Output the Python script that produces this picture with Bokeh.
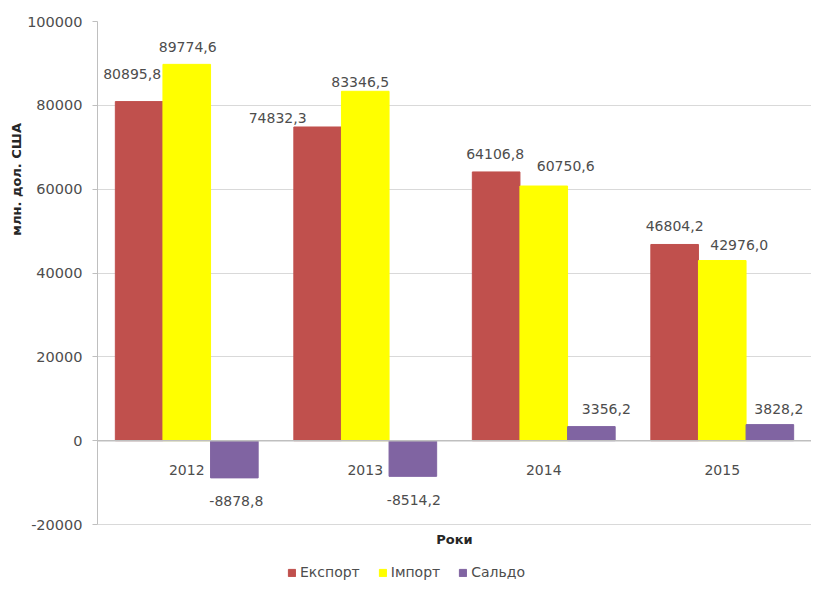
from bokeh.plotting import figure
from bokeh.models import (ColumnDataSource, FactorRange, Range1d, FixedTicker,
                          NumeralTickFormatter, Span, Legend, LegendItem, Label, Title)
from bokeh.transform import dodge
from bokeh.core.properties import value
from bokeh.embed import file_html
from bokeh.resources import INLINE

# ---- data ----
years = ["2012", "2013", "2014", "2015"]
export = [80895.8, 74832.3, 64106.8, 46804.2]
imports = [89774.6, 83346.5, 60750.6, 42976.0]
saldo = [-8878.8, -8514.2, 3356.2, 3828.2]
series_names = ["Експорт", "Імпорт", "Сальдо"]
y_ticks = [-20000, 0, 20000, 40000, 60000, 80000, 100000]

# ---- style: label nudges in screen pixels (as placed in the original) ----
export_dx, export_dy = [-7, -40, -1, 0], [-28, -9, -18, -18]
import_dx, import_dy = [1, -5, 22, 17], [-17, -9, -20, -16]
saldo_dx, saldo_dy = [2, 1, 15, 9], [23, 24, -18, -16]

FONT = "DejaVu Sans"
TXT = "#4d4d4d"
colors = ["#C0504D", "#FFFF00", "#8064A2"]
BW = 0.2667

W, H = 811, 580
TOP, LEFT = 21, 97
PLOT_PX = 503                       # pixel height of the -20000..100000 plot area
frame_px = H - TOP
span = y_ticks[-1] - y_ticks[0]
y_lo = y_ticks[-1] - span * frame_px / PLOT_PX   # extra room below for titles/legend

p = figure(x_range=FactorRange(*years, range_padding=0),
           y_range=Range1d(y_lo, y_ticks[-1]),
           width=W, height=H, x_axis_location=None,
           min_border_left=LEFT, min_border_right=0, min_border_top=TOP,
           min_border_bottom=0, output_backend="svg", toolbar_location=None)
p.outline_line_color = None

# y axis / grid
ax = p.yaxis[0]
ax.bounds = (y_ticks[0], y_ticks[-1])
ax.ticker = FixedTicker(ticks=y_ticks)
ax.formatter = NumeralTickFormatter(format="0")
ax.axis_line_color = "#bfbfbf"
ax.major_tick_line_color = "#bfbfbf"
ax.major_tick_out = 5
ax.major_tick_in = 0
ax.minor_tick_line_color = None
ax.major_label_standoff = 10
ax.major_label_text_font = FONT
ax.major_label_text_font_size = "14.5px"
ax.major_label_text_color = TXT
p.ygrid.ticker = FixedTicker(ticks=y_ticks)
p.ygrid.grid_line_color = "#d9d9d9"
p.xgrid.grid_line_color = None

p.add_layout(Title(text="млн. дол.  США", align="right", offset=97, standoff=2,
                   text_font=FONT, text_font_size="13px", text_font_style="bold",
                   text_color="#262626"), "left")

src = ColumnDataSource(dict(year=years, exp=export, imp=imports, sal=saldo))
offs = [-BW, 0, BW]
cols = ["exp", "imp", "sal"]
renderers = []
for off, col, c in zip(offs, cols, colors):
    r = p.vbar(x=dodge("year", off, range=p.x_range), top=col, bottom=0,
               width=BW, source=src, fill_color=c, line_color=c)
    renderers.append(r)

p.add_layout(Span(location=0, dimension="width", line_color="#bfbfbf", line_width=1.5))

# value labels
def fmt(v):
    return f"{v:.1f}".replace(".", ",")

for off, vals, dx, dy in zip(offs, [export, imports, saldo],
                             [export_dx, import_dx, saldo_dx],
                             [export_dy, import_dy, saldo_dy]):
    ls = ColumnDataSource(dict(year=years, y=vals, t=[fmt(v) for v in vals], dx=dx, dy=dy))
    p.text(x=dodge("year", off, range=p.x_range), y="y", text="t", source=ls,
           x_offset="dx", y_offset="dy", text_align="center", text_baseline="middle",
           text_font=value(FONT), text_font_size="14px", text_color=TXT)

# category labels at the zero line
cs = ColumnDataSource(dict(year=years, y=[0] * len(years)))
p.text(x="year", y="y", text="year", source=cs, y_offset=29,
       text_align="center", text_baseline="middle",
       text_font=value(FONT), text_font_size="14px", text_color=TXT)

# x axis title
p.add_layout(Label(x=len(years) / 2, y=y_ticks[0], y_offset=-15, text="Роки",
                   text_align="center", text_baseline="middle",
                   text_font=FONT, text_font_size="13px", text_font_style="bold",
                   text_color="#262626"))

legend = Legend(items=[LegendItem(label=n, renderers=[r]) for n, r in zip(series_names, renderers)],
                orientation="horizontal", location=(190, 0), margin=0, padding=0,
                spacing=18, glyph_width=9, glyph_height=9, label_standoff=4,
                label_text_font=FONT, label_text_font_size="14px", label_text_color=TXT,
                border_line_color=None, background_fill_alpha=0)
p.add_layout(legend)

open("out.html", "w").write(file_html(p, INLINE))
